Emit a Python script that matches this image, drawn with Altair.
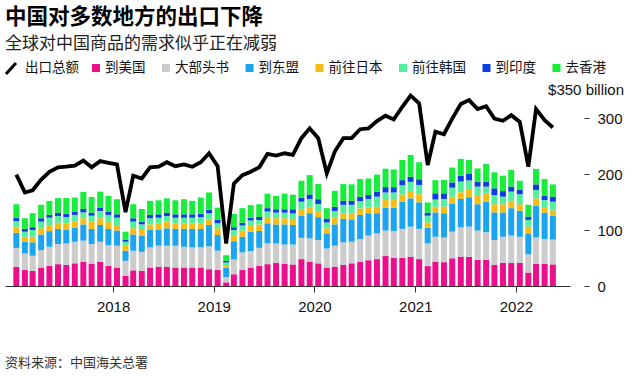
import altair as alt
import pandas as pd

# ---------------- data ----------------
months = pd.date_range("2017-01-01", "2022-05-01", freq="MS") + pd.Timedelta(days=14)

series_names = ["到美国", "大部头书", "到东盟", "前往日本", "前往韩国", "到印度", "去香港"]
series_colors = ["#ec0e8c", "#cccccc", "#1ba4ef", "#f6be14", "#52ef9c", "#0b3fdf", "#16ee3b"]
total_name = "出口总额"

us = [34.5, 28.5, 27, 33, 36, 39, 37.5, 40.5, 43.5, 40, 43, 36, 33, 18, 28, 27,
      33, 34.5, 34.5, 33, 33, 33, 33, 30, 28.5, 6.5, 21, 28.5, 33, 36, 39, 41,
      40, 38.5, 48, 43.5, 40.5, 33, 34.5, 37.5, 40.5, 43.5, 46, 48, 53.5, 50.5, 50.5, 52.5,
      48, 35.5, 43.5, 42.5, 49.5, 52.5, 52, 46.5, 47, 37.5, 41.5, 41, 41, 24, 40, 40, 38.5]
eu = [33.5, 29.5, 27, 31, 34, 36, 38.5, 38.5, 37.5, 35, 36, 37, 39, 27, 35, 34,
      36, 37.5, 37.5, 39, 37, 36, 36, 41, 34.5, 9.5, 26.5, 31.5, 29.5, 32.5, 37, 35,
      34, 35.5, 38, 41.5, 41.5, 34, 37.5, 40.5, 38.5, 40.5, 44, 46, 45.5, 47.5, 51.5, 53.5,
      54, 40.5, 44.5, 44, 47.5, 52, 54, 52.5, 49, 44.5, 46.5, 49, 47, 32.5, 46.5, 44, 44.5]
asean = [27, 21, 24, 28, 28, 27, 24, 25, 29, 27, 30, 29, 27, 18, 29, 29,
         32, 29, 31, 30, 32, 33, 33, 38, 28, 17, 32.5, 28, 34.5, 29.5, 36, 34,
         36, 35, 39, 45, 41, 27, 38, 42, 40, 43, 40, 36, 41, 42, 48.5, 50.5,
         47.5, 28, 43.5, 43.5, 49.5, 51, 52.5, 47, 54.5, 49.5, 43.5, 49, 46.5, 37.5, 56.5, 47, 42]
japan = [11, 9, 10, 11, 11, 11, 12, 11, 11, 13, 12, 12, 10, 10, 11, 10,
         9, 11, 12, 10, 10, 10, 10, 10, 12, 4.5, 11, 11, 12, 12, 11, 11,
         11, 10.5, 12.5, 10.5, 11, 9, 12, 10, 11, 11.5, 10, 11.5, 13.5, 13.5, 13, 13,
         14.5, 9.5, 10, 12, 13, 12, 15, 15, 15, 14.5, 14.5, 13, 11.5, 12, 13.5, 10, 10]
korea = [10, 9, 12, 12, 13, 12, 11, 12, 10.5, 10.5, 13, 13, 13, 6, 12, 10,
         11, 10, 10, 10, 10, 10, 11, 11, 9, 4.5, 9, 9, 8, 8, 10, 10,
         10, 10, 13, 15, 12.5, 10.5, 12, 15, 15, 13, 15.5, 18, 13.5, 13.5, 16.5, 16.5,
         16.5, 12, 13, 13.5, 16, 19, 15, 16.5, 12, 16.5, 13.5, 16.5, 18, 12, 15, 12.5, 15.5]
india = [6, 5, 5, 6, 5, 6, 6, 6, 6, 5.5, 6, 6, 6, 4, 6, 5,
         6, 6, 6, 6, 6, 6, 6, 6, 6, 3, 5, 5, 5, 5, 6, 6,
         6, 7.5, 7, 8, 8.5, 7, 7.5, 7, 7, 8, 7, 9, 9.5, 9.5, 9, 9,
         10, 5.5, 11, 10, 9.5, 10.5, 11.5, 9, 9, 12, 10, 9, 7.5, 6, 10, 7.5, 9]
hong_kong = [24, 19, 25, 24, 25, 26, 28, 25, 30.5, 28, 28.5, 28, 27, 14, 25, 22.5,
             25, 25, 25.5, 25, 27, 24, 29, 31, 22, 10, 23.5, 26, 22.5, 23, 26, 24,
             28, 26, 30.5, 34.5, 27, 18.5, 28.5, 30, 29.5, 31.5, 29.5, 30.5, 33, 31.5, 36, 39,
             30.5, 18, 23.5, 24, 26.5, 30, 25, 23.5, 31.5, 28.5, 27.5, 29.5, 16.5, 21, 27.5, 30, 22]
total = [199, 167, 171, 190, 204, 212, 213, 215, 224, 212, 223, 220, 217, 132, 197, 192,
         212, 213, 221, 214, 217, 213, 221, 237, 214, 76, 183, 198, 204, 212, 236, 233,
         237, 234, 264, 281.5, 264, 201, 240, 264, 264, 280, 281.5, 294.5, 304, 297.5, 320, 340,
         326, 216, 275.5, 271, 299, 325, 332, 316, 321, 299, 295, 305, 293, 213, 316, 296, 283]

year_ticks = [2018, 2019, 2020, 2021, 2022]
y_ticks = [0, 50, 100, 150, 200, 250, 300]
y_top_value = 350
y_top_label = "$350 billion"

title_text = "中国对多数地方的出口下降"
subtitle_text = "全球对中国商品的需求似乎正在减弱"
source_text = "资料来源：中国海关总署"

# ---------------- tables ----------------
series_values = [us, eu, asean, japan, korea, india, hong_kong]
rows = []
for k, (name, vals) in enumerate(zip(series_names, series_values)):
    for d, v in zip(months, vals):
        rows.append({"date": d, "series": name, "value": v, "k": k})
bars_df = pd.DataFrame(rows)
line_df = pd.DataFrame({"date": months, "total": total})

# legend layout (computed from label lengths)
CH = 13.5
sq_left = [92.0]
for name in series_names[:-1]:
    sq_left.append(sq_left[-1] + 13 + CH * len(name) + 16.5)
leg_df = pd.DataFrame({
    "series": series_names,
    "sx": [x - 5 + 4 for x in sq_left],
    "tx": [x - 5 + 13 for x in sq_left],
})

CJK = "Noto Sans CJK SC"
NUM = "Liberation Sans"
LEG_Y = -22

x_scale = alt.Scale(domain=[alt.DateTime(year=2016, month=12, date=23),
                            alt.DateTime(year=2022, month=6, date=28)])
y_scale = alt.Scale(domain=[0, 350], nice=False)
color_scale = alt.Scale(domain=series_names, range=series_colors)

bars = alt.Chart(bars_df).mark_bar(size=6).encode(
    x=alt.X("date:T", scale=x_scale, title=None,
            axis=alt.Axis(values=[alt.DateTime(year=y, month=1, date=1) for y in year_ticks],
                          format="%Y", labelFont=NUM, labelFontSize=15, labelColor="#111",
                          domainColor="#333", tickColor="#333", tickSize=6,
                          labelPadding=7, grid=False)),
    y=alt.Y("value:Q", stack="zero", scale=y_scale, title=None,
            axis=alt.Axis(orient="right", values=y_ticks, offset=14, tickSize=5,
                          domain=False, grid=False, labelFont=NUM, labelFontSize=15,
                          labelColor="#111", tickColor="#333", labelPadding=8)),
    color=alt.Color("series:N", scale=color_scale, legend=None),
    order=alt.Order("k:Q", sort="ascending"),
)

line = alt.Chart(line_df).mark_line(color="black", strokeWidth=3.8, strokeJoin="miter").encode(
    x=alt.X("date:T", scale=x_scale),
    y=alt.Y("total:Q", scale=y_scale),
)

top_label = alt.Chart(pd.DataFrame({"v": [y_top_value], "t": [y_top_label]})).mark_text(
    align="right", baseline="middle", font=NUM, fontSize=15, color="#111"
).encode(x=alt.value(619), y=alt.Y("v:Q", scale=y_scale), text="t:N")

leg_sq = alt.Chart(leg_df).mark_square(size=64, opacity=1).encode(
    x=alt.X("sx:Q", scale=None), y=alt.value(LEG_Y),
    color=alt.Color("series:N", scale=color_scale, legend=None),
)
leg_txt = alt.Chart(leg_df).mark_text(
    align="left", baseline="middle", font=CJK, fontSize=CH, color="#111"
).encode(x=alt.X("tx:Q", scale=None), y=alt.value(LEG_Y), text="series:N")

leg_line = alt.Chart(pd.DataFrame({"n": [total_name]})).mark_rule(
    color="black", strokeWidth=3).encode(
    x=alt.value(1), x2=alt.value(11), y=alt.value(LEG_Y + 6), y2=alt.value(LEG_Y - 5))
leg_line_txt = alt.Chart(pd.DataFrame({"n": [total_name]})).mark_text(
    align="left", baseline="middle", font=CJK, fontSize=CH, color="#111"
).encode(x=alt.value(20), y=alt.value(LEG_Y), text="n:N")

title = alt.Chart(pd.DataFrame({"t": [title_text]})).mark_text(
    align="left", baseline="middle", font=CJK, fontSize=21.5, fontWeight="bold", color="#000"
).encode(x=alt.value(0), y=alt.value(-72), text="t:N")
subtitle = alt.Chart(pd.DataFrame({"t": [subtitle_text]})).mark_text(
    align="left", baseline="middle", font=CJK, fontSize=17, color="#222"
).encode(x=alt.value(0), y=alt.value(-46), text="t:N")
source = alt.Chart(pd.DataFrame({"t": [source_text]})).mark_text(
    align="left", baseline="middle", font=CJK, fontSize=13, color="#333"
).encode(x=alt.value(0), y=alt.value(273), text="t:N")

chart = alt.layer(
    bars, line, top_label, leg_sq, leg_txt, leg_line, leg_line_txt, title, subtitle, source
).properties(
    width=565, height=196,
    padding={"left": 5, "top": 90, "right": 74, "bottom": 90},
    autosize=alt.AutoSizeParams(type="none"),
    background="white",
).configure_view(stroke=None)

chart.save("out.html", embed_options={"renderer": "svg", "actions": False})
